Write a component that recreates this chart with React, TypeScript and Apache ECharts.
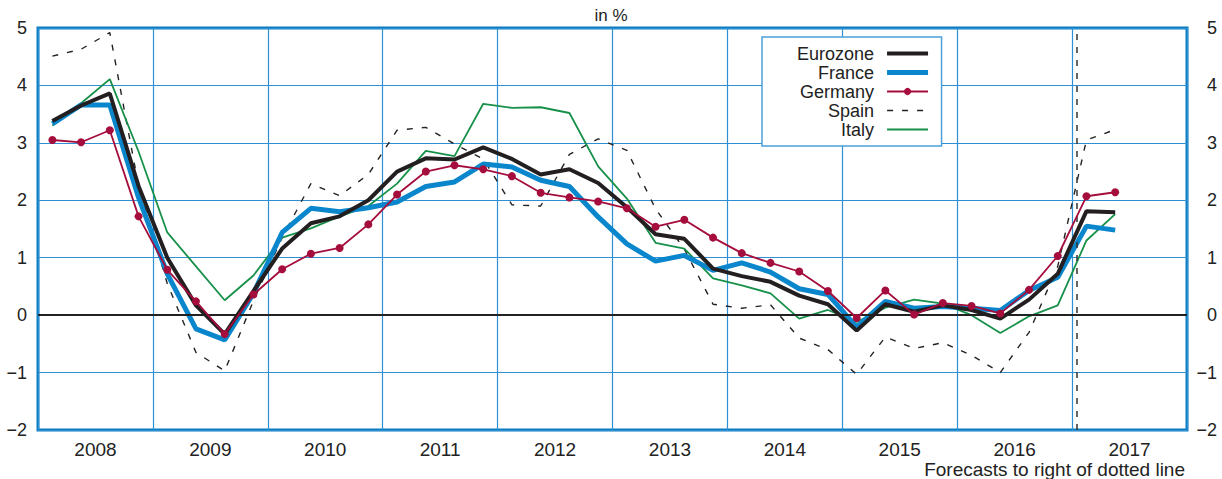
import React, { useEffect, useRef } from "react";
import * as echarts from "echarts";

const years = ["2008", "2009", "2010", "2011", "2012", "2013", "2014", "2015", "2016", "2017"];
const quarters = years.flatMap((y) => ["Q1", "Q2", "Q3", "Q4"].map((q) => `${y}${q}`)).slice(0, 38);

const eurozone = [3.38, 3.65, 3.86, 2.25, 1.0, 0.17, -0.33, 0.42, 1.16, 1.6, 1.72, 2.0, 2.5, 2.73, 2.71, 2.92, 2.72, 2.45, 2.54, 2.3, 1.88, 1.41, 1.33, 0.81, 0.68, 0.58, 0.34, 0.19, -0.27, 0.19, 0.06, 0.17, 0.09, -0.06, 0.27, 0.72, 1.81, 1.79];
const france = [3.33, 3.66, 3.66, 2.05, 0.72, -0.24, -0.43, 0.38, 1.44, 1.86, 1.8, 1.87, 1.97, 2.24, 2.32, 2.63, 2.58, 2.35, 2.24, 1.71, 1.24, 0.94, 1.04, 0.78, 0.91, 0.75, 0.46, 0.36, -0.21, 0.24, 0.12, 0.15, 0.12, 0.08, 0.43, 0.66, 1.55, 1.48];
const germany = [3.05, 3.01, 3.22, 1.72, 0.79, 0.24, -0.33, 0.36, 0.8, 1.07, 1.17, 1.58, 2.1, 2.5, 2.61, 2.54, 2.42, 2.13, 2.05, 1.98, 1.86, 1.54, 1.66, 1.35, 1.08, 0.91, 0.76, 0.42, -0.05, 0.43, 0.01, 0.21, 0.16, 0.03, 0.44, 1.03, 2.07, 2.14];
const spain = [4.51, 4.63, 4.92, 2.25, 0.55, -0.65, -0.97, 0.25, 1.35, 2.29, 2.08, 2.45, 3.22, 3.27, 2.98, 2.72, 1.92, 1.9, 2.8, 3.07, 2.87, 1.85, 1.15, 0.19, 0.12, 0.18, -0.4, -0.6, -1.03, -0.38, -0.58, -0.48, -0.7, -1.0, -0.3, 0.85, 3.05, 3.23];
const italy = [3.3, 3.69, 4.11, 2.85, 1.44, 0.85, 0.26, 0.69, 1.35, 1.51, 1.72, 1.9, 2.29, 2.86, 2.77, 3.68, 3.61, 3.62, 3.52, 2.59, 2.03, 1.26, 1.16, 0.64, 0.52, 0.38, -0.06, 0.09, -0.12, 0.13, 0.27, 0.2, 0.0, -0.31, -0.02, 0.17, 1.3, 1.76];

const forecastStart = 36.17; // position of dotted line, in quarters from 2008Q1
const yTicks = [-2, -1, 0, 1, 2, 3, 4, 5];
const legendNames = ["Eurozone", "France", "Germany", "Spain", "Italy"];

const FONT = "'Liberation Sans', Arial, Helvetica, sans-serif";
const GRID_BLUE = "#2f8fd3";
const FRAME_BLUE = "#0a7cc2";

const toXY = (vals: number[]) => vals.map((v, i) => [i + 0.5, v]);
const fmtY = (v: number) => (v < 0 ? "\u2212" + Math.abs(v) : String(v));

export default function App() {
  const ref = useRef<HTMLDivElement>(null);
  useEffect(() => {
    if (!ref.current) return;
    const chart = echarts.init(ref.current, undefined, { renderer: "svg" });
    chart.setOption({
      animation: false,
      backgroundColor: "#ffffff",
      textStyle: { fontFamily: FONT },
      title: {
        text: "in %",
        left: "center",
        top: 2,
        textStyle: { fontSize: 17, fontWeight: "normal", color: "#222", fontFamily: FONT },
      },
      legend: {
        data: legendNames.map((n) =>
          n === "Germany" ? { name: n } : { name: n, itemStyle: { opacity: 0 } }
        ),
        orient: "vertical",
        align: "right",
        left: 762,
        top: 37,
        padding: [7, 11, 7, 35],
        itemWidth: 41,
        itemHeight: 9,
        itemGap: 0,
        backgroundColor: "#ffffff",
        borderColor: "#4aa0da",
        borderWidth: 1.5,
        lineStyle: { width: "inherit" },
        textStyle: { fontSize: 18, lineHeight: 19, color: "#222", fontFamily: FONT, padding: [0, 8, 0, 0] },
      },
      grid: {
        left: 38,
        right: 35,
        top: 28,
        bottom: 49,
        show: true,
        borderColor: FRAME_BLUE,
        borderWidth: 3,
        backgroundColor: "transparent",
      },
      xAxis: [
        {
          type: "value",
          min: 0,
          max: 40,
          interval: 4,
          position: "top",
          axisLabel: { show: false },
          axisTick: { show: false },
          axisLine: { show: false },
          splitLine: { show: true, lineStyle: { color: GRID_BLUE, width: 1.2 } },
        },
        {
          type: "category",
          data: years,
          boundaryGap: true,
          position: "bottom",
          axisLabel: { fontSize: 19, lineHeight: 17, color: "#222", margin: 11, fontFamily: FONT },
          axisTick: { show: false },
          axisLine: { show: false },
          splitLine: { show: false },
        },
      ],
      yAxis: [
        {
          type: "value",
          min: yTicks[0],
          max: yTicks[yTicks.length - 1],
          interval: 1,
          position: "left",
          axisLabel: { fontSize: 18, color: "#222", margin: 11, formatter: fmtY, fontFamily: FONT },
          axisTick: { show: false },
          axisLine: { show: false },
          splitLine: { show: true, lineStyle: { color: GRID_BLUE, width: 1.2 } },
        },
        {
          type: "value",
          min: yTicks[0],
          max: yTicks[yTicks.length - 1],
          interval: 1,
          position: "right",
          axisLabel: { fontSize: 18, color: "#222", margin: 30, align: "right", formatter: fmtY, fontFamily: FONT },
          axisTick: { show: false },
          axisLine: { show: false },
          splitLine: { show: false },
        },
      ],
      graphic: [
        {
          type: "text",
          right: 37,
          top: 460,
          style: { text: "Forecasts to right of dotted line", fontSize: 19, fill: "#222", fontFamily: FONT },
        },
      ],
      series: [
        {
          name: "ref",
          type: "line",
          data: [],
          z: 1,
          silent: true,
          markLine: {
            silent: true,
            symbol: "none",
            label: { show: false },
            data: [
              { yAxis: 0, lineStyle: { color: "#222", width: 2, type: "solid" } },
              { xAxis: forecastStart, lineStyle: { color: "#333", width: 1.5, type: [6, 7] } },
            ],
          },
        },
        {
          name: "Spain",
          type: "line",
          data: toXY(spain),
          symbol: "none",
          z: 2,
          lineStyle: { color: "#222", width: 1.4, type: [6, 9] },
          itemStyle: { color: "#222" },
        },
        {
          name: "Italy",
          type: "line",
          data: toXY(italy),
          symbol: "none",
          z: 3,
          lineStyle: { color: "#17914a", width: 1.8 },
          itemStyle: { color: "#17914a" },
        },
        {
          name: "France",
          type: "line",
          data: toXY(france),
          symbol: "none",
          z: 4,
          lineStyle: { color: "#0a86cc", width: 5 },
          itemStyle: { color: "#0a86cc" },
        },
        {
          name: "Eurozone",
          type: "line",
          data: toXY(eurozone),
          symbol: "none",
          z: 5,
          lineStyle: { color: "#231f20", width: 4 },
          itemStyle: { color: "#231f20" },
        },
        {
          name: "Germany",
          type: "line",
          data: toXY(germany),
          symbol: "circle",
          symbolSize: 8,
          showSymbol: true,
          z: 6,
          lineStyle: { color: "#a50d3c", width: 1.8 },
          itemStyle: { color: "#a50d3c" },
        },
      ],
    });
    return () => chart.dispose();
  }, []);
  return (
    <div
      ref={ref}
      data-quarters={quarters.length}
      style={{ position: "fixed", left: 0, top: 0, width: 1222, height: 479 }}
    />
  );
}
